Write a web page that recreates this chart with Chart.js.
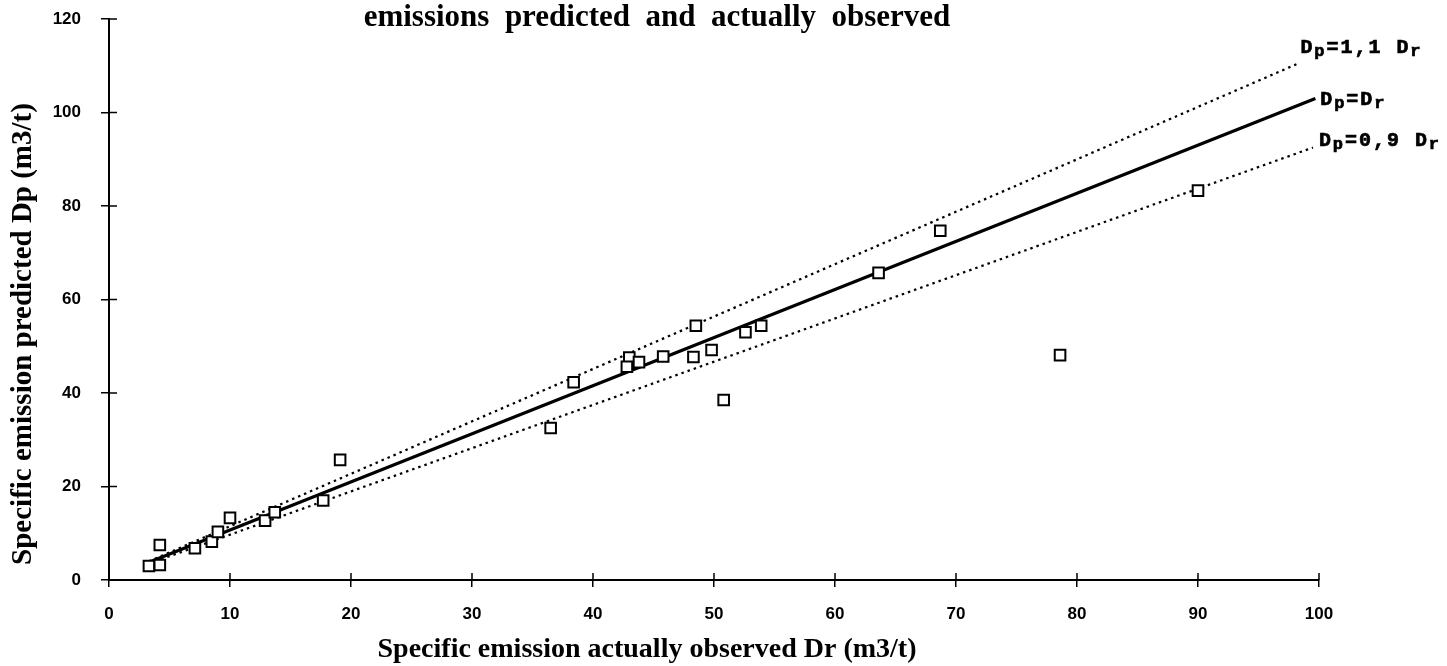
<!DOCTYPE html>
<html>
<head>
<meta charset="utf-8">
<script src="https://cdn.jsdelivr.net/npm/chart.js@4.4.1/dist/chart.umd.min.js"></script>
<style>
  html, body { margin: 0; padding: 0; background: #fff; }
  #wrap { width: 1447px; height: 666px; position: relative; }
</style>
</head>
<body>
<div id="wrap"><canvas id="chart"></canvas></div>
<script>
// Predicted vs observed specific emission (m3/t).
const observed  = [3.3, 4.2, 4.2, 7.1, 8.5, 9.0, 10.0, 12.9, 13.7, 17.7, 19.1,
                   36.5, 38.4, 43.0, 42.8, 43.8, 45.8, 48.5, 48.3, 49.8, 50.8,
                   52.6, 53.9, 63.6, 68.7, 78.6, 90.0];
const predicted = [3.0, 3.2, 7.5, 6.8, 8.2, 10.3, 13.3, 12.7, 14.5, 17.0, 25.7,
                   32.5, 42.3, 47.6, 45.6, 46.6, 47.8, 54.4, 47.7, 49.2, 38.5,
                   53.0, 54.4, 65.7, 74.7, 48.1, 83.3];

// reference lines, start and end points
const equalX = [3.3, 99.7], equalY = [3.8, 103];
const upperX = [3.3, 98.3], upperY = [4.0, 110.5];
const lowerX = [3.3, 99.5], lowerY = [3.5, 92.5];

const X_MIN = 0, X_MAX = 100, X_STEP = 10;
const Y_MIN = 0, Y_MAX = 120, Y_STEP = 20;

const TITLE = "emissions  predicted  and  actually  observed";
const X_TITLE = "Specific emission actually observed Dr (m3/t)";
const Y_TITLE = "Specific emission predicted Dp (m3/t)";
// line labels: [text, subscript?] pieces
const LABEL_UPPER = [["D", 0], ["p", 1], ["=1,1 ", 0], ["D", 0], ["r", 1]];
const LABEL_EQUAL = [["D", 0], ["p", 1], ["=", 0], ["D", 0], ["r", 1]];
const LABEL_LOWER = [["D", 0], ["p", 1], ["=0,9 ", 0], ["D", 0], ["r", 1]];

const pts = (xs, ys) => xs.map((x, i) => ({ x, y: ys[i] }));

// tick marks also cross into the plot area
const crossTicks = {
  id: "crossTicks",
  afterDraw(chart) {
    const { ctx, scales: { x, y } } = chart;
    ctx.save();
    ctx.strokeStyle = "#000";
    ctx.lineWidth = 1.5;
    ctx.beginPath();
    x.ticks.forEach(t => {
      const px = x.getPixelForValue(t.value);
      ctx.moveTo(px, x.top); ctx.lineTo(px, x.top - 7);
    });
    y.ticks.forEach(t => {
      const py = y.getPixelForValue(t.value);
      ctx.moveTo(y.right, py); ctx.lineTo(y.right + 8, py);
    });
    ctx.stroke();
    ctx.restore();
  }
};

function drawSubLabel(ctx, parts, x0, base) {
  let x = x0;
  ctx.lineWidth = 0.7;
  for (const [txt, sub] of parts) {
    for (const ch of txt) {
      const w = sub ? 12 : 14;
      ctx.font = sub ? "bold 17px 'Liberation Mono'" : "bold 20px 'Liberation Mono'";
      const yy = sub ? base + 3 : base;
      ctx.fillText(ch, x + w / 2, yy);
      ctx.strokeText(ch, x + w / 2, yy);
      x += w;
    }
  }
}

const annotations = {
  id: "annotations",
  afterDraw(chart) {
    const { ctx, scales: { x, y } } = chart;
    ctx.save();
    ctx.fillStyle = "#000";
    ctx.strokeStyle = "#000";
    ctx.textAlign = "center";
    ctx.textBaseline = "alphabetic";
    ctx.font = "bold 31px 'Liberation Serif'";
    ctx.fillText(TITLE, 657, 26);
    // axis titles
    ctx.font = "bold 28px 'Liberation Serif'";
    ctx.fillText(X_TITLE, 647, 657);
    ctx.save();
    ctx.translate(31, 334);
    ctx.rotate(-Math.PI / 2);
    ctx.font = "bold 29px 'Liberation Serif'";
    ctx.fillText(Y_TITLE, 0, 0);
    ctx.restore();
    // labels next to the line ends
    drawSubLabel(ctx, LABEL_UPPER, x.getPixelForValue(upperX[1]) + 1, y.getPixelForValue(upperY[1]) - 10);
    drawSubLabel(ctx, LABEL_EQUAL, x.getPixelForValue(equalX[1]) + 4, y.getPixelForValue(equalY[1]) + 7);
    drawSubLabel(ctx, LABEL_LOWER, x.getPixelForValue(lowerX[1]) + 5, y.getPixelForValue(lowerY[1]) - 2);
    ctx.restore();
  }
};

const tickFont = { family: "'Liberation Sans'", size: 17, weight: "bold" };

new Chart(document.getElementById("chart"), {
  type: "scatter",
  data: {
    datasets: [
      { data: pts(observed, predicted), pointStyle: "rect", pointRadius: 7.5,
        backgroundColor: "#fff", borderColor: "#000", borderWidth: 2, order: 0 },
      { type: "line", data: pts(equalX, equalY), borderColor: "#000", borderWidth: 3.2,
        pointRadius: 0, fill: false, order: 1 },
      { type: "line", data: pts(upperX, upperY), borderColor: "#000", borderWidth: 2.2,
        borderDash: [2.5, 4], pointRadius: 0, fill: false, order: 1 },
      { type: "line", data: pts(lowerX, lowerY), borderColor: "#000", borderWidth: 2.2,
        borderDash: [2.5, 4], pointRadius: 0, fill: false, order: 1 },
    ],
  },
  options: {
    responsive: true, maintainAspectRatio: false, animation: false,
    layout: { padding: { top: 19, right: 128, left: 0, bottom: 0 } },
    plugins: { legend: { display: false }, tooltip: { enabled: false } },
    scales: {
      x: {
        type: "linear", min: X_MIN, max: X_MAX,
        afterFit: s => { s.height = 86; },
        ticks: { stepSize: X_STEP, color: "#000", font: tickFont, padding: 17, maxRotation: 0 },
        grid: { drawOnChartArea: false, color: "#000", lineWidth: 1.5, tickLength: 7 },
        border: { display: true, color: "#000", width: 2 },
      },
      y: {
        type: "linear", min: Y_MIN, max: Y_MAX,
        afterFit: s => { s.width = 109; s.paddingTop = 0; s.paddingBottom = 0; },
        ticks: { stepSize: Y_STEP, color: "#000", font: tickFont, padding: 20 },
        grid: { drawOnChartArea: false, color: "#000", lineWidth: 1.5, tickLength: 8 },
        border: { display: true, color: "#000", width: 2 },
      },
    },
  },
  plugins: [crossTicks, annotations],
});
</script>
</body>
</html>
